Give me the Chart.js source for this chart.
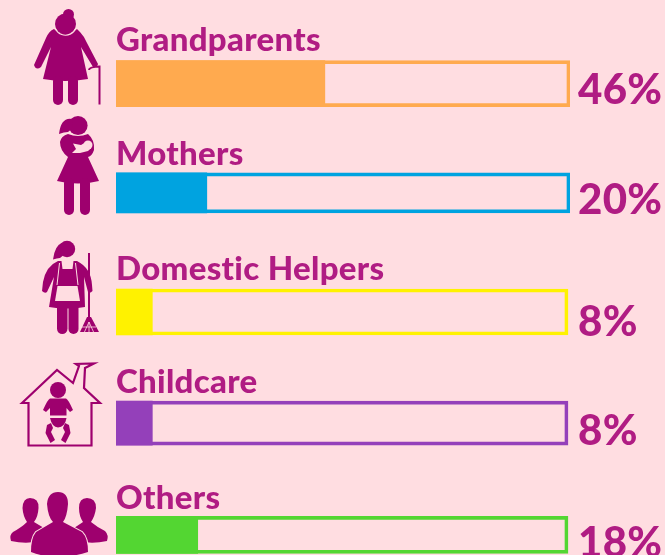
<!DOCTYPE html>
<html>
<head>
<meta charset="utf-8">
<title>Childcare</title>
<script src="https://cdn.jsdelivr.net/npm/chart.js@4"></script>
<style>
html, body { margin: 0; padding: 0; width: 665px; height: 555px; overflow: hidden; background: #ffdde1; }
canvas { display: block; }
</style>
</head>
<body>
<canvas id="grafico" width="665" height="600"></canvas>
<script>
const categorias = ['Grandparents', 'Mothers', 'Domestic Helpers', 'Childcare', 'Others'];
const percentuais = [46, 20, 8, 8, 18];
const total = [100, 100, 100, 100, 100];
const cores = ['#ffaa4f', '#00a3e0', '#fff200', '#9440ba', '#53d632'];

// the rows in the original are not evenly spaced or equally tall
const espessuras = [46, 40, 46, 44, 37];
const ajusteLinha = [0, -4, 2, 0, -1.5];
const ajusteFim = [0, 0, -2, -2, -2];
const ajusteRotulo = [-10, -8, -9.5, -8, -7];
const ajustePct = [20, 21, 24, 22, 22];

const corTexto = '#b01c83';
const corIcone = '#9e006e';
const fundo = '#ffdde1';

function circulo(ctx, x, y, r) {
    ctx.beginPath();
    ctx.arc(x, y, r, 0, Math.PI * 2);
    ctx.fill();
}

function perna(ctx, x, y, l, a) {
    ctx.beginPath();
    ctx.roundRect(x, y, l, a, l / 2);
    ctx.fill();
}

function avo(ctx) {
    ctx.fillStyle = corIcone;
    circulo(ctx, 68.5, 14.5, 5.5);
    circulo(ctx, 65.5, 24, 10.5);
    ctx.fill(new Path2D('M54 29 Q65 39 77 29 L80 32 Q84 36 87 43 L98 64 Q97 68 93 67 L81 47 L88 79 Q65 83 43 79 L51 47 L41 67 Q36 71 34 65 L46 38 Q49 31 54 29 Z'));
    perna(ctx, 53, 76, 10, 29);
    perna(ctx, 68, 76, 10, 29);
    ctx.strokeStyle = fundo;
    ctx.lineWidth = 1.2;
    ctx.beginPath();
    ctx.arc(65.5, 24, 11.2, 0.35, Math.PI - 0.35);
    ctx.stroke();
    ctx.strokeStyle = corIcone;
    ctx.lineWidth = 2;
    ctx.beginPath();
    ctx.moveTo(89, 70);
    ctx.quadraticCurveTo(89, 67, 99.5, 66.5);
    ctx.lineTo(99.5, 104.5);
    ctx.stroke();
}

function mae(ctx) {
    ctx.fillStyle = corIcone;
    circulo(ctx, 78, 125.5, 9.6);
    ctx.fill(new Path2D('M72 119 Q61 117 59 134 Q64 132 68 132 L73 128 Z'));
    ctx.fill(new Path2D('M68 134 Q78 138 88 134 Q95 140 94 150 Q92 156 88 157 L99 181 Q78 186 57 181 L68 157 Q60 151 60 142 Q61 136 68 134 Z'));
    perna(ctx, 64, 178, 10, 37);
    perna(ctx, 80, 178, 10, 37);
    ctx.fillStyle = fundo;
    circulo(ctx, 88, 145, 4.5);
    ctx.fill(new Path2D('M73 143.5 L81 145 L86 142 L91 148 L88 151 L80 153 L72 153 L76 149 Z'));
}

function ajudante(ctx) {
    ctx.fillStyle = corIcone;
    circulo(ctx, 67, 249, 8.2);
    ctx.fill(new Path2D('M62 243 Q55 245 53 259.5 Q57 258 60 258 L65 254 Z'));
    ctx.fill(new Path2D('M58 261 L77 261 Q91 268 92 285 L92.5 291 Q90 294 88 292 L84 277 L85 307 Q67 310 49 307 L54 277 L47 292 Q45 294 42 291 L43 282 Q46 266 58 261 Z'));
    perna(ctx, 57, 300, 10.5, 34);
    perna(ctx, 68.5, 300, 10, 34);
    ctx.fillStyle = fundo;
    ctx.fill(new Path2D('M61.5 261 L73.5 261 L72.5 269 L62.5 269 Z'));
    ctx.fill(new Path2D('M57.5 286 L77.5 286 L80 301 L55 301 Z'));
    ctx.strokeStyle = fundo;
    ctx.lineWidth = 1;
    ctx.beginPath();
    ctx.moveTo(59.5, 263);
    ctx.lineTo(57, 285);
    ctx.moveTo(75.5, 263);
    ctx.lineTo(78, 285);
    ctx.stroke();
    ctx.strokeStyle = corIcone;
    ctx.lineWidth = 2;
    ctx.beginPath();
    ctx.moveTo(89, 253);
    ctx.lineTo(89, 318);
    ctx.stroke();
    ctx.fillStyle = corIcone;
    ctx.fill(new Path2D('M87 317 L91 317 L99 332 L80 332 Z'));
    ctx.strokeStyle = fundo;
    ctx.lineWidth = 0.8;
    ctx.stroke(new Path2D('M89 322 L84 333 M89 322 L89 333 M89 322 L94 333 M82 327 L96 327'));
}

function creche(ctx) {
    ctx.strokeStyle = corIcone;
    ctx.fillStyle = corIcone;
    ctx.lineWidth = 2.2;
    ctx.lineJoin = 'miter';
    ctx.stroke(new Path2D('M22 403 L57 370 L73 383 L79 366 L76 364 L94 363.5 L85 368 L84 388 L100 403 L91.5 403 L91.5 445.5 L28.5 445.5 L28.5 403 Z'));
    circulo(ctx, 58, 390, 8);
    ctx.fill(new Path2D('M50 398.5 L66 398.5 Q68 399 73 410 L70 412 L66.5 408 L66.5 415.5 L50 415.5 L50 408 L46 412 L43 410 Q48 399 50 398.5 Z'));
    ctx.fill(new Path2D('M50 418 L66.5 418 Q65 427 58 427.5 Q52 427 50 418 Z'));
    ctx.fill(new Path2D('M47 425 L51 423 L53 428 L51 432 L55 440 L50.5 443 L45.5 433 Z'));
    ctx.fill(new Path2D('M69 425 L65 423 L63 428 L65 432 L61 440 L65.5 443 L70.5 433 Z'));
}

function outros(ctx) {
    ctx.fillStyle = corIcone;
    ctx.fill(new Path2D('M30 498 Q39 498 38.5 508 Q38 517 34 522 L44 528 L44 540 Q28 545 11 541 Q9 535 13 532 Q22 527 27 522 Q23 516 22.5 508 Q23 498 30 498 Z'));
    ctx.fill(new Path2D('M87 498 Q96 498 96 508 Q95 516 91 522 Q97 527 105 531 Q109 535 107 541 Q90 545 74 540 L74 528 L83 522 Q79 516 79 508 Q79 498 87 498 Z'));
    ctx.strokeStyle = fundo;
    ctx.lineWidth = 2;
    const centro = new Path2D('M58 492 Q68 492 68 504 Q67 517 63 522 L82 532 Q88 538 88 552 Q70 558 58 555 Q46 558 31 552 Q31 538 36 532 L53 522 Q48 517 47 504 Q48 492 58 492 Z');
    ctx.stroke(centro);
    ctx.fill(centro);
}

const icones = [avo, mae, ajudante, creche, outros];

const pluginLinhas = {
    id: 'pluginLinhas',
    // moves each row a little off the even category spacing
    afterDatasetsUpdate(chart) {
        chart.data.datasets.forEach((d, i) => {
            chart.getDatasetMeta(i).data.forEach((el, j) => {
                el.y += ajusteLinha[j];
                if (d.moldura) el.x += ajusteFim[j];
            });
        });
    },
    afterDraw(chart) {
        const ctx = chart.ctx;
        const y = chart.scales.y;
        const x = chart.scales.x;
        ctx.save();
        icones.forEach(f => {
            ctx.save();
            f(ctx);
            ctx.restore();
        });
        ctx.fillStyle = corTexto;
        ctx.textBaseline = 'alphabetic';
        categorias.forEach((nome, i) => {
            const centro = y.getPixelForValue(i) + ajusteLinha[i];
            const topo = centro - espessuras[i] / 2;
            ctx.textAlign = 'left';
            ctx.letterSpacing = '0.3px';
            ctx.font = '900 33px Lato';
            ctx.fillText(nome, x.left, topo + ajusteRotulo[i]);
            ctx.font = '900 42px Lato';
            ctx.fillText(percentuais[i] + '%', 578, centro + ajustePct[i]);
        });
        ctx.restore();
    }
};

const conjuntos = [];
categorias.forEach((nome, i) => {
    const soEsta = arr => arr.map((v, j) => (j === i ? v : null));
    conjuntos.push({
        label: nome,
        data: soEsta(percentuais),
        backgroundColor: cores[i],
        borderWidth: 0,
        barThickness: espessuras[i],
        order: 1
    });
    conjuntos.push({
        label: nome + ' total',
        moldura: true,
        data: soEsta(total),
        backgroundColor: 'transparent',
        borderColor: cores[i],
        borderWidth: 3,
        borderSkipped: false,
        barThickness: espessuras[i],
        order: 2
    });
});

new Chart(document.getElementById('grafico').getContext('2d'), {
    type: 'bar',
    data: { labels: categorias, datasets: conjuntos },
    plugins: [pluginLinhas],
    options: {
        indexAxis: 'y',
        responsive: false,
        animation: false,
        layout: { padding: { left: 116, right: 95, top: 27, bottom: 7 } },
        datasets: { bar: { grouped: false } },
        plugins: { legend: { display: false }, tooltip: { enabled: false } },
        scales: {
            x: { min: 0, max: 100, display: false },
            y: { display: false }
        }
    }
});
</script>
</body>
</html>
